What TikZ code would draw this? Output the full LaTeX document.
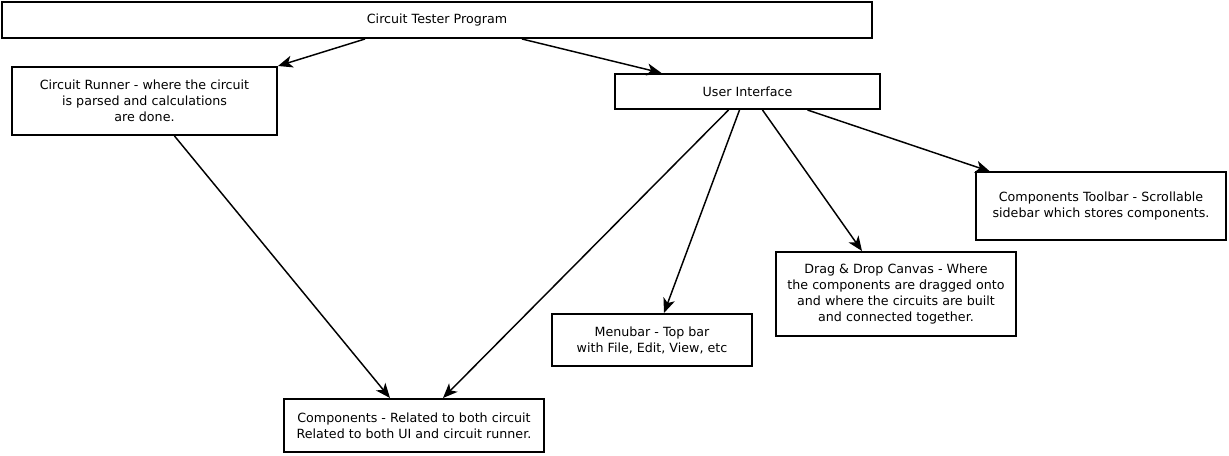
\documentclass[tikz,border=0pt]{standalone}
\usepackage{fontspec}
\setmainfont{DejaVu Sans}
\usepackage{tikz}
\usetikzlibrary{arrows.meta, calc}

\begin{document}
\begin{tikzpicture}[
      x=0.75pt, y=-0.75pt,
      font=\fontsize{9.5}{12}\selectfont,
      box/.style={rectangle, draw=black, line width=1.5pt, fill=white,
                  align=center, inner sep=0pt},
      sz/.style 2 args={minimum width=#1*0.75pt, minimum height=#2*0.75pt},
      ar/.style={black, line width=1.1pt,
                 -{Stealth[length=11pt, width=9pt, inset=3pt]}},
    ]
    \useasboundingbox (0,0) rectangle (1229,456);

    % top level
    \node[box, sz={870}{36}] (prog) at (437,20)
      {Circuit Tester Program};
    \node[box, sz={265}{68}] (runner) at (144.5,101)
      {Circuit Runner - where the circuit\\is parsed and calculations\\are done.};
    \node[box, sz={265}{35}] (ui) at (747.5,91.5)
      {User Interface};

    % parts of the UI
    \node[box, sz={250}{68}] (toolbar) at (1101,206.5)
      {Components Toolbar - Scrollable\\sidebar which stores components.};
    \node[box, sz={240}{84}] (canvas) at (896,294)
      {Drag \& Drop Canvas - Where\\the components are dragged onto\\and where the circuits are built\\and connected together.};
    \node[box, sz={200}{52}] (menubar) at (652,340)
      {Menubar - Top bar\\with File, Edit, View, etc};
    \node[box, sz={260}{53}] (comps) at (414,425.5)
      {Components - Related to both circuit\\Related to both UI and circuit runner.};

    % connectors
    \draw[ar] ($(prog.south)+(-72,0)$) -- (runner.north east);
    \draw[ar] ($(prog.south)+(85,0)$) -- ($(ui.north)+(-86,0)$);
    \draw[ar] ($(runner.south)+(30,0)$) -- ($(comps.north)+(-24,0)$);
    \draw[ar] ($(ui.south)+(-19,0)$) -- ($(comps.north)+(29,0)$);
    \draw[ar] ($(ui.south)+(-8,0)$) -- ($(menubar.north)+(12,0)$);
    \draw[ar] ($(ui.south)+(15,0)$) -- ($(canvas.north)+(-34,0)$);
    \draw[ar] ($(ui.south)+(60,0)$) -- ($(toolbar.north)+(-111,0)$);
    \end{tikzpicture}
\end{document}
